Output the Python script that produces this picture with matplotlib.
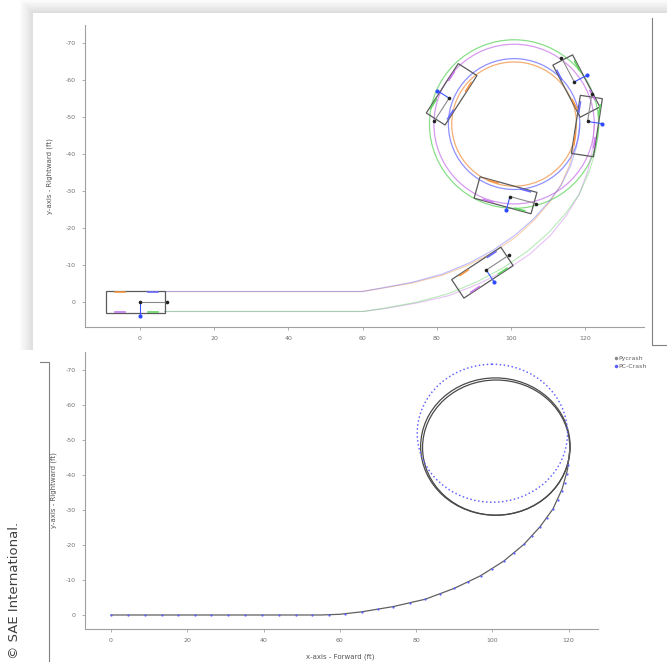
import matplotlib
matplotlib.use("Agg")
import matplotlib.pyplot as plt
from matplotlib.patches import Rectangle, Circle
from matplotlib.lines import Line2D
from matplotlib.transforms import Affine2D

plt.rcParams['axes.unicode_minus'] = False

# ---------------- data (ft) ----------------
# top panel: tyre traces, approach part
orange_x = [6.7, 59.9, 65.4, 73.4, 81.5, 88.8, 95.5, 101.3, 106.3, 110.3, 113.4, 115.7, 116.9, 117.6]
orange_y = [-2.8, -2.8, -3.7, -5.1, -7.2, -10.1, -13.6, -17.6, -22.2, -26.9, -31.6, -36.9, -42.0, -48.1]
blue_x = [6.7, 59.9, 65.4, 73.4, 81.4, 88.7, 95.2, 101.0, 106.0, 110.1, 113.5, 116.0, 117.6, 118.5]
blue_y = [-2.8, -2.8, -3.8, -5.3, -7.5, -10.5, -14.0, -18.0, -22.4, -27.0, -31.6, -36.8, -41.9, -48.1]
purple_x = [6.7, 60.1, 66.0, 74.6, 83.3, 91.3, 98.5, 105.0, 110.6, 114.9, 118.3, 120.6, 121.9, 122.4]
purple_y = [2.6, 2.6, 1.8, 0.3, -1.7, -4.9, -8.5, -12.9, -18.0, -23.4, -29.0, -35.2, -41.1, -48.1]
green_x = [6.7, 60.1, 66.0, 74.5, 83.1, 91.0, 98.0, 104.4, 110.0, 114.5, 118.3, 121.0, 122.8, 123.6]
green_y = [2.6, 2.6, 1.7, 0.1, -2.2, -5.5, -9.3, -13.7, -18.6, -23.7, -29.0, -35.1, -41.0, -48.1]

# loop of the tyre traces: common centre, one radius per tyre
trace_loop_center = (100.8, -48.1)
trace_loop_r = [16.8, 17.7, 21.6, 22.8]   # orange, blue, purple, green

# vehicle snapshots: CG position and heading (deg)
veh_x = [0.0, 93.3, 117.0, 83.3, 99.7, 120.6]
veh_y = [0.0, -8.6, -59.5, -55.1, -28.5, -48.8]
veh_heading = [0.0, -33.5, -117.6, 122.8, 15.4, -81.3]

# bottom panel: Pycrash CG path
pycrash_x = [0, 55, 60, 65.7, 74, 82.4, 90, 96.9, 103, 108.3, 112.5, 115.9, 118.3, 119.7, 120.4]
pycrash_y = [0, 0, -0.2, -0.9, -2.4, -4.5, -7.6, -11.2, -15.4, -20.2, -25.2, -30.3, -36.0, -41.5, -48.1]
pycrash_loops = [((100.8, -48.1), 19.6), ((101.0, -47.8), 19.3)]

# PC-Crash sample points (approach) and its loop
pc_x = [0.1, 4.4, 8.8, 13.3, 17.5, 22.0, 26.3, 30.8, 35.2, 39.7, 44.0, 48.4, 52.8, 57.3, 61.4,
        65.7, 69.9, 74.0, 78.5, 82.4, 86.3, 90.0, 93.5, 96.9, 100.0, 103.0, 105.8, 108.3,
        110.3, 112.5, 114.2, 115.9, 117.2, 118.2, 119.0, 119.5, 119.8]
pc_y = [0, 0, 0, 0, 0, 0, 0, 0, 0, 0, 0, 0, 0, -0.1, -0.4,
        -0.9, -1.6, -2.4, -3.4, -4.5, -5.9, -7.6, -9.3, -11.2, -13.2, -15.4, -17.8, -20.2,
        -22.5, -25.2, -27.7, -30.3, -32.8, -35.3, -37.8, -40.3, -42.8]
pc_loop = ((100.0, -51.9), 19.7)

xticks = [0, 20, 40, 60, 80, 100, 120]
yticks = [0, -10, -20, -30, -40, -50, -60, -70]

# ---------------- styles ----------------
c_orange, c_blue, c_purple, c_green = '#f29446', '#6b6bff', '#c978ea', '#62d462'
trace_colors = [c_orange, c_blue, c_purple, c_green]
W, H = 667, 662


def fx(px):
    return px / W


def fy(py):
    return 1 - py / H


def style(ax):
    for s in ['top', 'right']:
        ax.spines[s].set_visible(False)
    for s in ['left', 'bottom']:
        ax.spines[s].set_color('#a0a0a0')
        ax.spines[s].set_linewidth(0.8)
    ax.tick_params(length=2.5, width=0.6, color='#a0a0a0', labelsize=4.5,
                   labelcolor='#707070', pad=4)
    ax.set_xticks(xticks)
    ax.set_yticks(yticks)


fig = plt.figure(figsize=(W / 100, H / 100), dpi=100)

# page decoration: shadowed white box behind the top panel
for k in range(1, 9):
    fig.add_artist(Rectangle((fx(33 - 1.6 * k), fy(350)), 1, (350 - 13 + 1.6 * k) / H,
                             transform=fig.transFigure, fc='black', ec='none',
                             alpha=0.014, zorder=-3))
fig.add_artist(Rectangle((fx(33), fy(350)), 1, 337 / H, transform=fig.transFigure,
                         fc='white', ec='none', zorder=-2))
fig.add_artist(Line2D([fx(652), fx(652), 1], [fy(18), fy(345), fy(345)],
                      transform=fig.transFigure, color='#808080', lw=0.8))
fig.add_artist(Line2D([fx(40), fx(49), fx(49)], [fy(362), fy(362), 0],
                      transform=fig.transFigure, color='#808080', lw=0.8))
fig.text(fx(15), fy(590), '© SAE International.', rotation=90, ha='center', va='center',
         fontsize=9.5, color='#404040')

# ---------------- top panel ----------------
ax1 = fig.add_axes([fx(85), fy(327), fx(644) - fx(85), fy(25) - fy(327)])
style(ax1)
ax1.set_xlim(-14.8, 135.8)
ax1.set_ylim(6.8, -74.9)
ax1.set_ylabel('y-axis - Rightward (ft)', fontsize=5, color='#555555')
ax1.yaxis.set_label_coords(-0.057, 0.5)

traces = [(orange_x, orange_y), (blue_x, blue_y), (purple_x, purple_y), (green_x, green_y)]
for (tx, ty), col, r in zip(traces, trace_colors, trace_loop_r):
    ax1.plot(tx, ty, color=col, lw=0.8, alpha=0.45)
    ax1.add_patch(Circle(trace_loop_center, r, fill=False, ec=col, lw=0.9, alpha=0.75))

for x, y, h in zip(veh_x, veh_y, veh_heading):
    tr = Affine2D().rotate_deg(h).translate(x, y) + ax1.transData
    ax1.add_patch(Rectangle((-9.2, -3.0), 15.9, 6.0, fill=False, ec='#5a5a5a', lw=0.9,
                            transform=tr, zorder=4))
    # tyres: rear-left, front-left, rear-right, front-right
    ax1.plot([-6.75, -4.05], [-2.7, -2.7], color=c_orange, lw=1.2, transform=tr, zorder=5)
    ax1.plot([2.2, 4.9], [-2.7, -2.7], color=c_blue, lw=1.2, transform=tr, zorder=5)
    ax1.plot([-6.75, -4.05], [2.7, 2.7], color=c_purple, lw=1.2, transform=tr, zorder=5)
    ax1.plot([2.2, 4.9], [2.7, 2.7], color=c_green, lw=1.2, transform=tr, zorder=5)
    ax1.plot([0, 7.4], [0, 0], color='#8a8a8a', lw=0.8, transform=tr, zorder=5)
    ax1.plot([0, 0], [0, 3.8], color='#3a55ff', lw=0.8, transform=tr, zorder=5)
    ax1.plot([0, 7.4], [0, 0], 'o', ms=2.6, color='#222222', mec='none', transform=tr, zorder=6)
    ax1.plot([0], [3.8], 'o', ms=3.0, color='#2f4bff', mec='none', transform=tr, zorder=6)

# ---------------- bottom panel ----------------
ax2 = fig.add_axes([fx(85), fy(629), fx(598) - fx(85), fy(352) - fy(629)])
style(ax2)
ax2.set_xlim(-6.8, 127.7)
ax2.set_ylim(4.0, -75.1)
ax2.set_ylabel('y-axis - Rightward (ft)', fontsize=5, color='#555555')
ax2.yaxis.set_label_coords(-0.055, 0.5)
ax2.set_xlabel('x-axis - Forward (ft)', fontsize=5, color='#555555')
ax2.xaxis.set_label_coords(0.497, -0.087)

ax2.plot(pycrash_x, pycrash_y, color='#606060', lw=0.9)
for c, r in pycrash_loops:
    ax2.add_patch(Circle(c, r, fill=False, ec='#4a4a4a', lw=0.9))

ax2.plot(pc_x, pc_y, 'o', ms=1.6, color='#5c5cff', mec='none', zorder=4)
ax2.add_patch(Circle(pc_loop[0], pc_loop[1], fill=False, ec='#6464ff', lw=1.2,
                     linestyle=(0, (0.1, 2.3)), capstyle='round', zorder=4))

handles = [Line2D([], [], marker='.', ls='none', color='#8a8a8a', ms=3, label='Pycrash'),
           Line2D([], [], marker='.', ls='none', color='#5c5cff', ms=3, label='PC-Crash')]
fig.legend(handles=handles, loc='upper left', bbox_to_anchor=(fx(610), fy(353)),
           frameon=False, fontsize=4.5, handletextpad=0.1, labelspacing=0.35,
           borderpad=0, handlelength=0.8, labelcolor='#606060')

fig.savefig('out.png', dpi=100)
